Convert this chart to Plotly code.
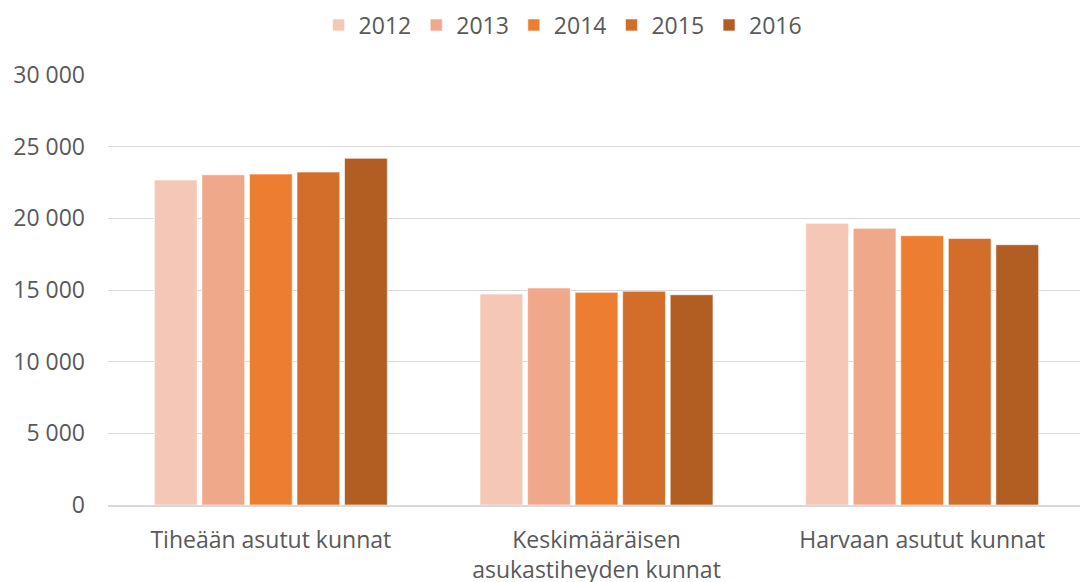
import plotly.graph_objects as go

categories = ["Tiheään asutut kunnat", "Keskimääräisen<br>asukastiheyden kunnat", "Harvaan asutut kunnat"]
years = ["2012", "2013", "2014", "2015", "2016"]
values = {
    "2012": [22670, 14720, 19650],
    "2013": [23040, 15140, 19300],
    "2014": [23090, 14840, 18790],
    "2015": [23230, 14910, 18600],
    "2016": [24190, 14670, 18160],
}
colors = ["#F4C7B6", "#F0A88A", "#ED7D31", "#D26D2A", "#B25D22"]
tick_vals = [0, 5000, 10000, 15000, 20000, 25000, 30000]
tick_text = ["0", "5 000", "10 000", "15 000", "20 000", "25 000", "30 000"]

fig = go.Figure()
for y, c in zip(years, colors):
    fig.add_trace(go.Bar(
        x=categories, y=values[y], name=y,
        marker=dict(color=c, line=dict(color="rgba(255,255,255,0.6)", width=1)),
    ))

# page body has an 8px default margin; figure is sized/offset to compensate
W, H = 1080, 574
font = "Open Sans, Liberation Sans, sans-serif"
fig.update_layout(
    width=W, height=H,
    margin=dict(l=100, r=3, t=67, b=77, autoexpand=False),
    paper_bgcolor="white", plot_bgcolor="white",
    barmode="group", bargap=0.27, bargroupgap=0.1,
    font=dict(family=font, size=23, color="#595959"),
    legend=dict(orientation="h", xref="container", x=0.514, xanchor="center",
                y=1 - 17 / H, yanchor="middle", yref="container",
                font=dict(size=23, color="#595959"),
                itemwidth=30, traceorder="normal"),
    xaxis=dict(showline=True, linecolor="#D9D9D9", linewidth=2, automargin=False,
               tickfont=dict(size=23, color="#595959"), ticks="", ticklabelstandoff=13),
    yaxis=dict(range=[0, 30000], tickvals=tick_vals, ticktext=tick_text, automargin=False,
               showgrid=True, gridcolor="#D9D9D9", gridwidth=1, zeroline=False,
               tickfont=dict(size=23, color="#595959"), ticklabelstandoff=22),
)
fig.write_html("out.html")
